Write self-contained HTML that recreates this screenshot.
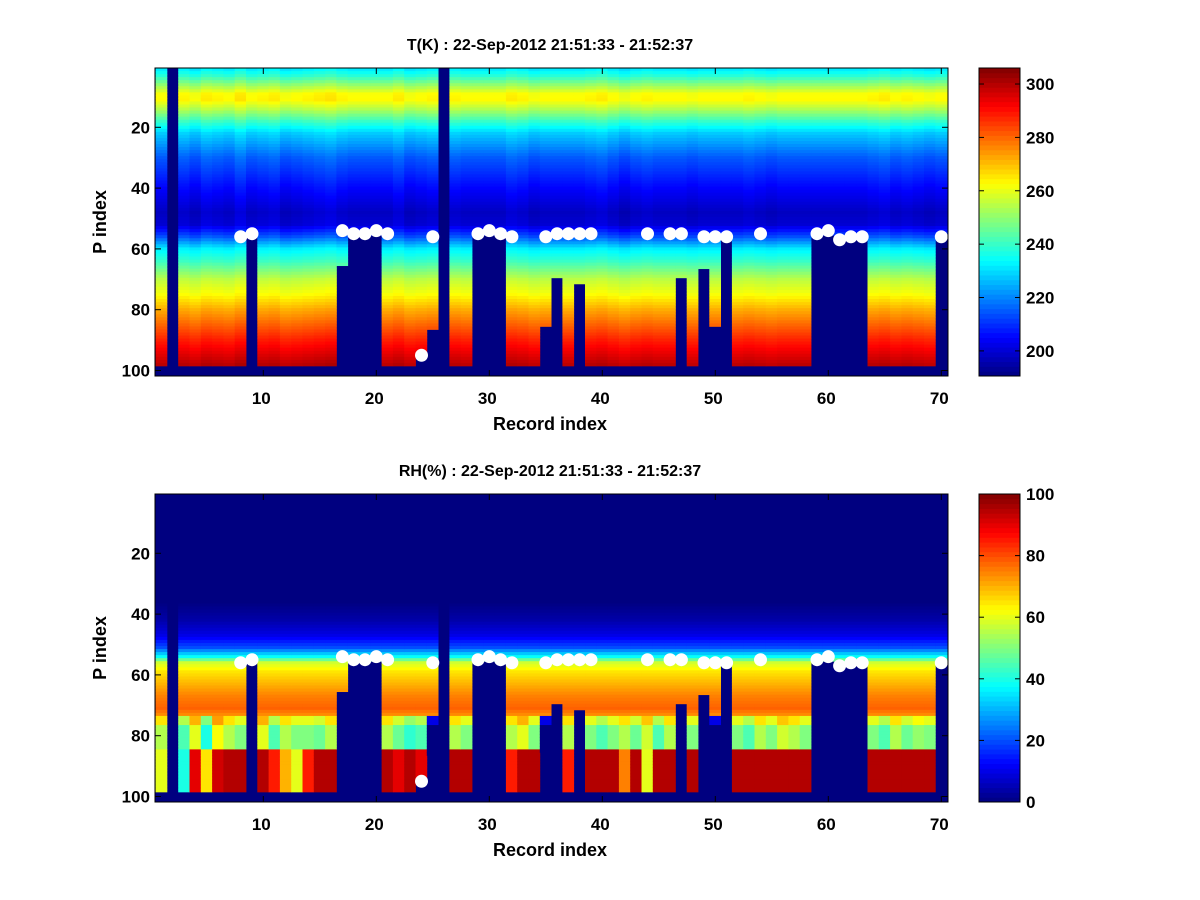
<!DOCTYPE html>
<html><head><meta charset="utf-8">
<style>
body{margin:0;background:#fff;font-family:"Liberation Sans",sans-serif;}
#wrap{position:relative;width:1200px;height:900px;overflow:hidden;background:#fff;}
svg text{font-family:"Liberation Sans",sans-serif;font-weight:bold;}
</style></head>
<body>
<div id="wrap">
<svg id="svg" width="1200" height="900"></svg>
</div>
<script>
// ---- data ----
const records = Array.from({length:70},(_,i)=>i+1);
// temperature profile keypoints (P index -> K)
const tProfileP = [1,3,6,9,11,14,18,22,30,40,48,52,56,60,64,70,75,80,85,90,95,98];
const tProfileV = [232,238,250,262,263,254,240,228,215,205,198,200,214,232,240,255,262,272,280,288,295,299];
// per-record temperature offsets
const tOffset = [0,0,1,-1,2,1,0,3,0,1,2,-1,0,1,2,3,1,0,0,0,0,2,-1,0,1,0,1,0,0,0,0,2,1,-1,0,0,0,0,1,2,0,-2,0,1,0,0,0,-1,0,0,0,0,1,0,-1,0,0,0,0,0,0,0,0,1,2,0,1,0,-1,0];
// RH profile keypoints
const rhProfileP = [1,36,42,47,51,54,56,59,63,67,71,74,78,82,85,88,92,98];
const rhProfileV = [0,0,4,10,20,38,58,65,70,75,78,72,62,55,50,80,92,94];
// per-record lower RH (rows 85-98) and mid RH (rows 74-84)
const rhLow = [60,0,40,90,65,92,95,95,0,95,85,70,60,85,95,95,0,0,0,0,95,90,95,90,0,0,95,95,0,0,0,85,95,95,0,0,85,0,95,95,95,75,95,60,95,95,0,95,0,0,0,95,95,95,95,95,95,95,0,0,0,0,0,95,95,95,95,95,95,0];
const rhMid = [55,0,45,60,40,62,55,50,0,60,45,55,50,50,48,55,0,0,0,0,55,48,42,45,0,0,55,50,0,0,0,55,60,50,0,0,55,0,50,45,50,55,48,58,45,55,0,50,0,0,0,50,45,55,50,58,55,50,0,0,0,0,0,50,45,55,48,52,50,0];
// surface mask start (P index); 99 = only bottom band, 1 = full column
const maskFrom = [99,1,99,99,99,99,99,99,56,99,99,99,99,99,99,99,66,56,56,56,99,99,99,95,87,1,99,99,56,56,56,99,99,99,86,70,99,72,99,99,99,99,99,99,99,99,70,99,67,86,57,99,99,99,99,99,99,99,56,56,56,56,56,99,99,99,99,99,99,57];
// white dot markers
const dotRec = [8,9,17,18,19,20,21,24,25,29,30,31,32,35,36,37,38,39,44,46,47,49,50,51,54,59,60,61,62,63,70];
const dotP   = [56,55,54,55,55,54,55,95,56,55,54,55,56,56,55,55,55,55,55,55,55,56,56,56,55,55,54,57,56,56,56];
const tTicks = [200,220,240,260,280,300];
const rhTicks = [0,20,40,60,80,100];
const xTicks = [10,20,30,40,50,60,70];
const yTicks = [20,40,60,80,100];

// ---- helpers ----
const NS='http://www.w3.org/2000/svg';
const svg=document.getElementById('svg');
function mk(tag,attrs,parent){const e=document.createElementNS(NS,tag);for(const k in attrs)e.setAttribute(k,attrs[k]);(parent||svg).appendChild(e);return e;}
function interp(ps,vs,p){if(p<=ps[0])return vs[0];for(let i=1;i<ps.length;i++){if(p<=ps[i]){const f=(p-ps[i-1])/(ps[i]-ps[i-1]);return vs[i-1]+f*(vs[i]-vs[i-1]);}}return vs[vs.length-1];}
function jet(t){t=Math.max(0,Math.min(1,t));const c=v=>Math.round(255*Math.max(0,Math.min(1,v)));return `rgb(${c(1.5-Math.abs(4*t-3))},${c(1.5-Math.abs(4*t-2))},${c(1.5-Math.abs(4*t-1))})`;}
const X0=155,X1=948;
const xScale=r=>263.3+(r-10)*11.3;

function drawPanel(top,title,valFn,cmin,cmax,cticks,nameP){
  const yScale=p=>top+(127.3-68)+(p-20)*3.04;
  const Y0=top, Y1=top+308;
  const g=mk('g',{},svg);
  
  
  mk('rect',{x:X0,y:Y0,width:X1-X0,height:Y1-Y0,fill:jet(0)},g);
  for(let c=0;c<records.length;c++){
    const r=records[c];
    const xa=Math.max(X0,xScale(r-0.53)), xb=(c===records.length-1)?X1:xScale(r+0.47);
    for(let p=1;p<=98;p++){
      if(p>=maskFrom[c]) continue;
      const ya=Math.max(Y0,yScale(p-0.5)), yb=yScale(p+0.5);
      const v=valFn(c,p);
      mk('rect',{x:xa.toFixed(2),y:ya.toFixed(2),width:(xb-xa+0.4).toFixed(2),height:(yb-ya+0.4).toFixed(2),fill:jet((v-cmin)/(cmax-cmin))},g);
    }
  }
  for(let i=0;i<dotRec.length;i++){
    const d=mk('circle',{cx:xScale(dotRec[i]),cy:yScale(dotP[i]),r:6.5,fill:'#fff'},svg);
    
    
  }
  const ax=mk('rect',{x:X0,y:Y0,width:X1-X0,height:Y1-Y0,fill:'none',stroke:'#000','stroke-width':1},svg);
  
  
  xTicks.forEach(t=>{const x=xScale(t);
    mk('line',{x1:x,y1:Y1,x2:x,y2:Y1-6,stroke:'#000'});mk('line',{x1:x,y1:Y0,x2:x,y2:Y0+6,stroke:'#000'});
    const tx=mk('text',{x:x-2,y:Y1+28,'text-anchor':'middle','font-size':17},svg);tx.textContent=t;
    });
  yTicks.forEach(t=>{const y=yScale(t);
    mk('line',{x1:X0,y1:y,x2:X0+6,y2:y,stroke:'#000'});mk('line',{x1:X1,y1:y,x2:X1-6,y2:y,stroke:'#000'});
    const tx=mk('text',{x:X0-5,y:y+6,'text-anchor':'end','font-size':17},svg);tx.textContent=t;
    });
  const tt=mk('text',{x:550,y:top-18,'text-anchor':'middle','font-size':16},svg);tt.textContent=title;
  
  const xl=mk('text',{x:550,y:Y1+54,'text-anchor':'middle','font-size':18},svg);xl.textContent='Record index';
  
  const yl=mk('text',{x:106,y:(Y0+Y1)/2,'text-anchor':'middle','font-size':18,transform:`rotate(-90 106 ${(Y0+Y1)/2})`},svg);yl.textContent='P index';
  
  const CX0=979,CX1=1020;
  const cb=mk('g',{},svg);
  
  
  const n=64,h=(Y1-Y0)/n;
  for(let i=0;i<n;i++){mk('rect',{x:CX0,y:(Y1-(i+1)*h).toFixed(2),width:CX1-CX0,height:(h+0.5).toFixed(2),fill:jet((i+0.5)/n)},cb);}
  mk('rect',{x:CX0,y:Y0,width:CX1-CX0,height:Y1-Y0,fill:'none',stroke:'#000'},cb);
  cticks.forEach(t=>{const y=Y1-(t-cmin)/(cmax-cmin)*(Y1-Y0);
    mk('line',{x1:CX1,y1:y,x2:CX1-5,y2:y,stroke:'#000'},cb);mk('line',{x1:CX0,y1:y,x2:CX0+5,y2:y,stroke:'#000'},cb);
    const tx=mk('text',{x:CX1+6,y:y+6,'font-size':17},svg);tx.textContent=t;
    });
}

drawPanel(68,'T(K) : 22-Sep-2012 21:51:33 - 21:52:37',
  (c,p)=>interp(tProfileP,tProfileV,p)+tOffset[c]*(p<60?1:0.6),190.6,306,tTicks,'temperature');

drawPanel(494,'RH(%) : 22-Sep-2012 21:51:33 - 21:52:37',
  (c,p)=>{let v=interp(rhProfileP,rhProfileV,p);
    if(p>=74&&p<85)v=rhMid[c]+(p<77?10:0);
    if(p>=85)v=rhLow[c];
    return v;},0,100,rhTicks,'humidity');
</script>
</body></html>
